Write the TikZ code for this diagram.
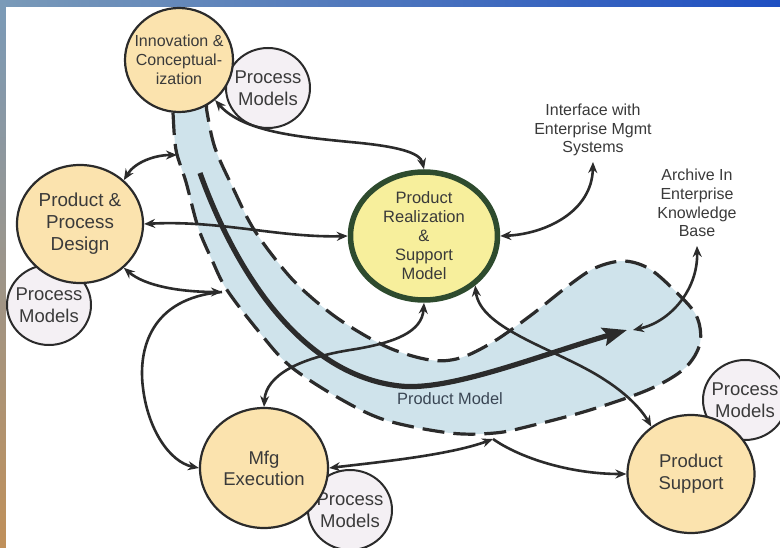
\documentclass[tikz,border=0pt]{standalone}
\usepackage{fontspec}
\setmainfont{Liberation Sans}
\usetikzlibrary{shapes.geometric,arrows.meta}
\definecolor{ink}{HTML}{2B2B2B}
\definecolor{txt}{HTML}{3A3A3A}
\definecolor{orng}{HTML}{FBE3AE}
\definecolor{pmfill}{HTML}{F4F0F4}
\definecolor{prsmfill}{HTML}{F7EF9C}
\definecolor{prsmline}{HTML}{2E4B2E}
\definecolor{bandfill}{HTML}{CFE3EB}
\definecolor{pmtxt}{HTML}{3A4654}
\definecolor{slideblue}{HTML}{1E4FC2}
\definecolor{slidelight}{HTML}{7A9AB8}
\definecolor{slideorange}{HTML}{C0905A}
\tikzset{
  mytip/.tip={Stealth[length=11pt,width=9pt]},
  bigtip/.tip={Stealth[length=24pt,width=18pt,inset=4pt]},
  mainnode/.style={ellipse, draw=ink, line width=2.2pt, fill=orng, inner sep=-12pt, align=center, text=txt},
  pmnode/.style={ellipse, draw=ink, line width=2pt, fill=pmfill, inner sep=-12pt, align=center, text=txt,
     minimum width=84pt, minimum height=80pt, font=\fontsize{18.5}{22}\selectfont},
  lbl/.style={align=center, text=txt, inner sep=0pt},
  conn/.style={draw=ink, line width=2.6pt, mytip-mytip},
  connto/.style={draw=ink, line width=2.6pt, -mytip},
  bandline/.style={draw=ink, line width=3.2pt, dash pattern=on 22pt off 9pt, fill=bandfill},
  flowline/.style={draw=ink, line width=5.2pt, -bigtip},
}
\begin{document}
\begin{tikzpicture}[x=1pt,y=-1pt]
\useasboundingbox (0,0) rectangle (780,548);
% slide background
\shade[left color=slidelight, right color=slideblue] (0,0) rectangle (780,7);
\shade[top color=slidelight, bottom color=slideorange] (0,0) rectangle (6,548);
\fill[white] (6,7) rectangle (780,548);

% product model band
\draw[bandline] plot[smooth cycle, tension=0.55] coordinates {
 (172,95) (173,113) (176,150) (186,182) (198,227) (212,260) (227,290) (260,333) (290,366)
 (337,397) (385,420) (450,433) (495,433) (530,426) (590,410) (650,389) (685,368) (700,343)
 (696,315) (672,288) (648,268) (623,261) (595,268) (568,286) (530,316) (493,342) (460,358)
 (430,360) (387,347) (340,320) (303,290) (280,265) (253,228) (233,188) (215,148) (207,112)
 (205,95) (188,85)};
\coordinate (flowS) at (200,173);
\coordinate (flowE) at (627,330);
\draw[flowline] (flowS) .. controls (235,270) and (300,375) .. (400,386)
  .. controls (450,391.5) and (540,355) .. (flowE);
\node[lbl, font=\fontsize{16.4}{19}\selectfont, text=pmtxt] (pmodel) at (450,399) {Product Model};

% process model circles
\node[pmnode] (pmA) at (268,88) {Process\\Models};
\node[pmnode] (pmB) at (49,305) {Process\\Models};
\node[pmnode] (pmC) at (350,510) {Process\\Models};
\node[pmnode] (pmD) at (745,400) {Process\\Models};

% main circles
\node[mainnode, minimum width=108pt, minimum height=104pt, font=\fontsize{16}{19}\selectfont]
  (inn) at (179,60) {Innovation \&\\Conceptual-\\ization};
\node[mainnode, minimum width=126pt, minimum height=118pt, font=\fontsize{18.8}{22}\selectfont]
  (des) at (80,224) {Product \&\\Process\\Design};
\node[mainnode, draw=prsmline, line width=5.5pt, fill=prsmfill, minimum width=147pt, minimum height=128pt,
  font=\fontsize{16.5}{19}\selectfont] (prsm) at (424,236) {Product\\Realization\\\&\\Support\\Model};
\node[mainnode, minimum width=128pt, minimum height=120pt, font=\fontsize{18.5}{21}\selectfont]
  (mfg) at (264,468) {Mfg\\Execution};
\node[mainnode, minimum width=127pt, minimum height=118pt, font=\fontsize{18.5}{22}\selectfont]
  (ps) at (691,474) {Product\\Support};

% labels
\node[lbl, font=\fontsize{16}{18.5}\selectfont] (intf) at (593,130) {Interface with\\Enterprise Mgmt\\Systems};
\node[lbl, font=\fontsize{16}{18.7}\selectfont] (arch) at (697,203) {Archive In\\Enterprise\\Knowledge\\Base};

% connector end points
\coordinate (bA) at (177,155);
\coordinate (bB) at (222,292);
\coordinate (bC) at (493,439);
\coordinate (bD) at (633,330);
\coordinate (intfA) at (593,162);
\coordinate (archA) at (697,246);

% connectors
\draw[conn] (inn.-48) .. controls +(28,32) and (300,137) .. (350,142)
  .. controls (395,146) and (420,152) .. (prsm.north);
\draw[conn] (des.45) .. controls (135,162) and (155,155) .. (bA);
\draw[conn] (des.east) .. controls (220,220) and (280,238) .. (prsm.west);
\draw[conn] (des.-45) .. controls (145,286) and (180,292) .. (bB);
\draw[connto] (bB) .. controls (150,298) and (138,350) .. (143,388)
  .. controls (148,430) and (170,462) .. (mfg.west);
\draw[conn] (mfg.north) .. controls (266,375) and (300,358) .. (350,350)
  .. controls (395,343) and (422,332) .. (prsm.south);
\draw[conn] (mfg.east) .. controls (380,462) and (450,455) .. (bC);
\draw[connto] (bC) .. controls (520,458) and (570,474) .. (ps.west);
\draw[conn] (prsm.-44) .. controls (480,330) and (560,350) .. (605,380)
  .. controls (630,396) and (643,412) .. (ps.130);
\draw[conn] (prsm.east) .. controls (545,234) and (592,212) .. (intfA);
\draw[conn] (archA) .. controls (698,290) and (670,322) .. (bD);
\end{tikzpicture}
\end{document}
